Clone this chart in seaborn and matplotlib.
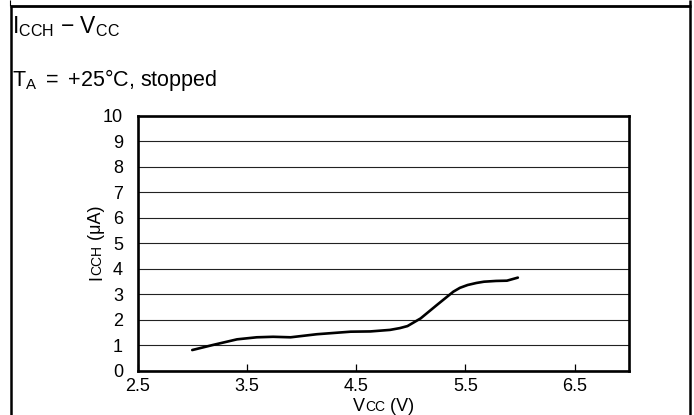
import matplotlib
matplotlib.use("Agg")
import matplotlib.pyplot as plt
from matplotlib.lines import Line2D
import seaborn as sns
import pandas as pd

# ---- data ----
vcc = [3.00, 3.19, 3.41, 3.59, 3.74, 3.90, 4.14, 4.45, 4.63, 4.81, 4.90,
       4.97, 5.09, 5.24, 5.39, 5.45, 5.52, 5.60, 5.67, 5.78, 5.88, 5.93, 5.98]
icch = [0.81, 1.01, 1.23, 1.31, 1.33, 1.31, 1.43, 1.53, 1.54, 1.60, 1.67,
        1.75, 2.05, 2.58, 3.10, 3.25, 3.36, 3.44, 3.49, 3.52, 3.53, 3.59, 3.65]
x_ticks = [2.5, 3.5, 4.5, 5.5, 6.5]
x_tick_labels = ["2.5", "3.5", "4.5", "5.5", "6.5"]
y_ticks = [0, 1, 2, 3, 4, 5, 6, 7, 8, 9, 10]
title_line1 = "I$_{CCH}$ $-$ V$_{CC}$"
title_line2 = "T$_A$ $=$ $+$25\u00b0C, stopped"

sns.set_theme(style="white")
plt.rcParams["font.family"] = ["Liberation Sans", "DejaVu Sans"]
plt.rcParams["mathtext.fontset"] = "custom"
plt.rcParams["mathtext.rm"] = "Liberation Sans"
plt.rcParams["mathtext.it"] = "Liberation Sans:italic"
plt.rcParams["mathtext.bf"] = "Liberation Sans:bold"
plt.rcParams["mathtext.default"] = "regular"

W, H = 694, 415
fig = plt.figure(figsize=(W / 100, H / 100), dpi=100)
fig.patch.set_facecolor("white")

ax = fig.add_axes([137.6 / W, (H - 370.7) / H, 491.7 / W, 255.0 / H])
df = pd.DataFrame({"Vcc": vcc, "Icch": icch})
sns.lineplot(data=df, x="Vcc", y="Icch", ax=ax, color="black", linewidth=1.9,
             sort=False, estimator=None)

ax.set_xlim(2.5, 7.0)
ax.set_ylim(0, 10)
ax.set_xticks(x_ticks)
ax.set_xticklabels(x_tick_labels)
ax.set_yticks(y_ticks)
ax.set_yticklabels([str(v) for v in y_ticks])
ax.set_xlabel("")
ax.set_ylabel("")
ax.yaxis.grid(True, color="#222222", linewidth=0.8)
ax.xaxis.grid(False)
ax.set_axisbelow(True)
for s in ax.spines.values():
    s.set_visible(True)
    s.set_color("black")
    s.set_linewidth(1.9)
ax.tick_params(axis="x", direction="in", length=5, width=0.9, color="black",
               labelsize=13, pad=5, bottom=True, top=False)
ax.tick_params(axis="y", length=0, labelsize=13, pad=10.5, left=False)
for lbl in ax.get_xticklabels() + ax.get_yticklabels():
    lbl.set_color("black")

# ---- axis labels with reduced-size capitals ----
fig.canvas.draw()
renderer = fig.canvas.get_renderer()


def pieces(x, y, parts, rotation=0):
    """Place text pieces in sequence starting at pixel (x, y) on the baseline."""
    for txt, size in parts:
        t = fig.text(x / W, y / H, txt, fontsize=size, color="black",
                     rotation=rotation, rotation_mode="anchor",
                     ha="left", va="baseline")
        bb = t.get_window_extent(renderer)
        if rotation == 90:
            y += bb.height
        else:
            x += bb.width


def total(parts):
    tot = 0
    for txt, size in parts:
        t = fig.text(0, 0, txt, fontsize=size)
        tot += t.get_window_extent(renderer).width
        t.remove()
    return tot


xl = [("V", 13), ("CC", 10), (" (V)", 13)]
wx = total(xl)
pieces(383.5 - wx / 2, H - 411, xl)

yl = [("I", 13), ("CCH", 10), (" (\u03bcA)", 13)]
wy = total(yl)
pieces(101, H - 243 - wy / 2, yl, rotation=90)

# ---- header text ----
fig.text(12 / W, (H - 33) / H, title_line1, fontsize=16.5, color="black",
         ha="left", va="baseline")
fig.text(12 / W, (H - 86) / H, title_line2, fontsize=15.5, color="black",
         ha="left", va="baseline")
fig.text(398 / W, (H + 5) / H, "(1)", fontsize=13, color="black",
         ha="center", va="baseline")

# ---- table frame ----
def fline(x0, y0, x1, y1, lw):
    fig.add_artist(Line2D([x0 / W, x1 / W], [(H - y0) / H, (H - y1) / H],
                          transform=fig.transFigure, color="black",
                          linewidth=lw, solid_capstyle="butt"))


fline(10, 6.5, 691, 6.5, 2.0)
fline(10, 0, 10, 6.5, 0.8)
fline(11, 6.5, 11, H, 1.8)
fline(690, 0, 690, H, 1.8)

fig.savefig("out.png", dpi=100, facecolor="white")
